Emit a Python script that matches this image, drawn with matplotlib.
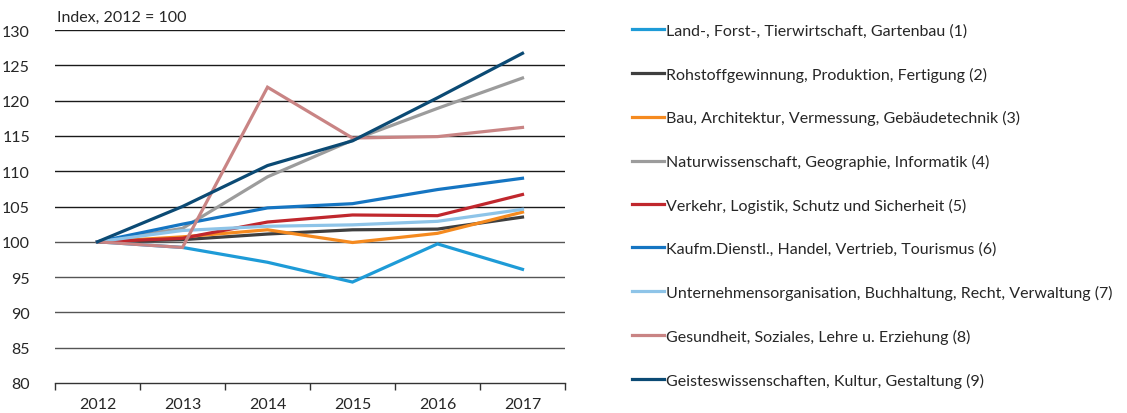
#!/usr/bin/env python3

import matplotlib
matplotlib.use('Agg')
import matplotlib.pyplot as plt

# -- Data
years = ['2012', '2013', '2014', '2015', '2016', '2017']

labels = [
    'Land-, Forst-, Tierwirtschaft, Gartenbau (1)',
    'Rohstoffgewinnung, Produktion, Fertigung (2)',
    'Bau, Architektur, Vermessung, Gebäudetechnik (3)',
    'Naturwissenschaft, Geographie, Informatik (4)',
    'Verkehr, Logistik, Schutz und Sicherheit (5)',
    'Kaufm.Dienstl., Handel, Vertrieb, Tourismus (6)',
    'Unternehmensorganisation, Buchhaltung, Recht, Verwaltung (7)',
    'Gesundheit, Soziales, Lehre u. Erziehung (8)',
    'Geisteswissenschaften, Kultur, Gestaltung (9)',
]

land = [100, 99.2, 97.1, 94.3, 99.7, 96.1]
rohstoff = [100, 100.3, 101.1, 101.7, 101.8, 103.5]
bau = [100, 100.7, 101.7, 99.9, 101.2, 104.2]
natur = [100, 101.9, 109.2, 114.4, 118.9, 123.2]
verkehr = [100, 100.5, 102.8, 103.8, 103.7, 106.7]
kaufm = [100, 102.5, 104.8, 105.4, 107.4, 109.0]
unternehmen = [100, 101.6, 102.2, 102.4, 102.9, 104.6]
gesundheit = [100, 99.2, 121.9, 114.7, 114.9, 116.2]
geistes = [100, 105.0, 110.8, 114.3, 120.4, 126.7]

series = [land, rohstoff, bau, natur, verkehr, kaufm, unternehmen, gesundheit, geistes]
colors = ['#1e9bd7', '#3f3f3f', '#f58a1f', '#9c9c9c', '#c0272d',
          '#1575c2', '#8ec4e8', '#c98484', '#0b4a74']

plt.rcParams['font.family'] = ['Lato', 'DejaVu Sans']
text_color = '#262626'

fig = plt.figure(figsize=(11.27, 4.14), dpi=100)
ax = fig.add_axes([55 / 1127, 1 - 384 / 414, 510 / 1127, 353 / 414])

x = range(len(years))
for vals, col, lab in zip(series, colors, labels):
    ax.plot(x, vals, color=col, linewidth=2.3, label=lab, solid_joinstyle='miter')

ax.set_xlim(-0.5, len(years) - 0.5)
ax.set_ylim(80, 130)
ax.set_yticks(range(80, 131, 5))
for v in range(85, 131, 5):
    ax.axhline(v, color='#1a1a1a' if v > 100 else '#555555', linewidth=1.0, zorder=0)

# -- Category ticks between years
ax.set_xticks(list(x))
ax.set_xticklabels(years)
ax.set_xticks([i - 0.5 for i in range(len(years) + 1)], minor=True)
ax.tick_params(axis='x', which='major', length=0, pad=10, labelsize=11.5, colors=text_color)
ax.tick_params(axis='x', which='minor', length=5, width=1, direction='out', color='#333333')
ax.tick_params(axis='y', length=0, pad=18, labelsize=11.5, colors=text_color)
for lbl in ax.get_yticklabels():
    lbl.set_horizontalalignment('right')

for side in ['top', 'right', 'left']:
    ax.spines[side].set_visible(False)
ax.spines['bottom'].set_color('#333333')
ax.spines['bottom'].set_linewidth(1.0)

fig.text(57 / 1127, 1 - 18 / 414, 'Index, 2012 = 100', fontsize=11.5,
         color=text_color, va='center', ha='left')

fig.legend(loc='upper left', bbox_to_anchor=(626 / 1127, 1 - 18 / 414),
           frameon=False, fontsize=11.5, handlelength=2.0, handletextpad=0.1,
           labelspacing=1.8, labelcolor=text_color, borderaxespad=0)

fig.savefig('out.png', dpi=100)
